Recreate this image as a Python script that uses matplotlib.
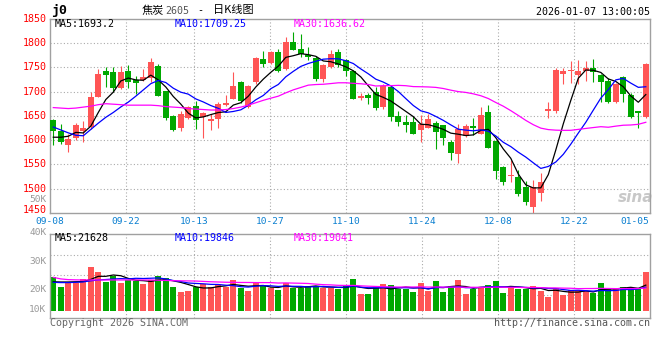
import matplotlib
matplotlib.use("Agg")
import matplotlib.pyplot as plt
import numpy as np
import pandas as pd

# ---------------- data ----------------
opens = [1642, 1619, 1589, 1604, 1619, 1627, 1689, 1742, 1740, 1707,
         1742, 1723, 1723, 1727, 1753, 1701, 1650, 1626, 1646, 1670,
         1648, 1640, 1643, 1672, 1685, 1720, 1668, 1720, 1767, 1759,
         1781, 1746, 1802, 1787, 1776, 1769, 1726, 1750, 1781, 1764,
         1742, 1687, 1693, 1699, 1668, 1709, 1649, 1638, 1637, 1620,
         1626, 1635, 1631, 1596, 1572, 1608, 1629, 1613, 1658, 1598,
         1545, 1526, 1524, 1504, 1462, 1492, 1660, 1659, 1737, 1742,
         1735, 1742, 1749, 1735, 1722, 1678, 1730, 1693, 1660, 1648]
highs = [1644, 1633, 1612, 1636, 1639, 1699, 1747, 1750, 1750, 1752,
         1754, 1733, 1747, 1769, 1756, 1702, 1651, 1661, 1671, 1681,
         1658, 1653, 1679, 1692, 1740, 1721, 1713, 1771, 1783, 1784,
         1788, 1812, 1822, 1818, 1792, 1774, 1756, 1786, 1788, 1768,
         1745, 1697, 1697, 1709, 1716, 1712, 1660, 1652, 1649, 1651,
         1654, 1640, 1632, 1601, 1633, 1633, 1645, 1668, 1673, 1600,
         1546, 1560, 1538, 1515, 1518, 1533, 1678, 1749, 1748, 1763,
         1764, 1762, 1768, 1737, 1728, 1717, 1733, 1697, 1661, 1759]
lows = [1589, 1593, 1576, 1601, 1596, 1623, 1688, 1709, 1699, 1706,
        1707, 1695, 1721, 1720, 1690, 1642, 1618, 1619, 1644, 1623,
        1605, 1620, 1625, 1670, 1685, 1677, 1666, 1716, 1751, 1757,
        1740, 1744, 1785, 1772, 1766, 1722, 1719, 1748, 1751, 1733,
        1684, 1682, 1675, 1662, 1664, 1640, 1630, 1616, 1612, 1597,
        1625, 1581, 1589, 1560, 1552, 1606, 1610, 1612, 1583, 1521,
        1507, 1513, 1486, 1467, 1451, 1475, 1645, 1656, 1715, 1718,
        1715, 1721, 1720, 1678, 1676, 1677, 1678, 1645, 1624, 1646]
closes = [1619, 1596, 1602, 1632, 1625, 1689, 1737, 1735, 1708, 1740,
          1719, 1718, 1731, 1761, 1691, 1646, 1620, 1653, 1668, 1642,
          1656, 1644, 1674, 1676, 1711, 1680, 1711, 1769, 1757, 1781,
          1743, 1802, 1786, 1778, 1771, 1726, 1754, 1778, 1755, 1742,
          1685, 1691, 1686, 1667, 1711, 1648, 1638, 1632, 1613, 1633,
          1643, 1617, 1605, 1574, 1622, 1629, 1624, 1652, 1584, 1536,
          1513, 1528, 1490, 1473, 1504, 1514, 1664, 1744, 1742, 1745,
          1742, 1749, 1741, 1720, 1678, 1716, 1694, 1647, 1655, 1757]
volumes = [28130, 19980, 24480, 23630, 26720, 37120, 32910, 24480, 29250, 23630,
           25880, 25040, 22790, 25880, 29530, 27850, 19980, 16050, 16890, 19980,
           22790, 20260, 21670, 19980, 25880, 18860, 16890, 23630, 21100, 18860,
           17450, 23630, 19420, 19420, 21100, 20820, 19420, 18860, 18010, 20820,
           26720, 14080, 14080, 19420, 22510, 21670, 18010, 18010, 16050, 23350,
           16610, 25040, 16050, 20820, 25880, 14080, 18010, 19980, 21670, 25040,
           14920, 20820, 18010, 18010, 20820, 16610, 11550, 19140, 13240, 17450,
           17100, 16610, 14500, 23350, 19140, 18290, 20300, 17450, 19140, 32600]

# moving-average values before the window is full
ma5_lead = [1606, 1606, 1608, 1616]
ma10_lead = [1627, 1621, 1615, 1610, 1609, 1622, 1635, 1647, 1657]
ma30_lead = [1667, 1666, 1665, 1666, 1668, 1670, 1673, 1675, 1674, 1673,
             1672, 1672, 1672, 1672, 1671, 1669, 1668, 1667, 1665, 1664,
             1663, 1662, 1662, 1663, 1665, 1668, 1672, 1677, 1682]
vol_ma5_lead = [24400, 24200, 24200, 24400]
vol_ma10_lead = [23900, 23700, 23700, 23900, 24300, 25200, 25900, 26300, 26700]
vol_ma30_lead = [28100, 26800, 26200, 26000, 25900, 25900, 25900, 25900, 25900, 25900,
                 25900, 25900, 25900, 25900, 25700, 25500, 25300, 25200, 25100, 25000,
                 24700, 24400, 24200, 24000, 23900, 23800, 23800, 23700, 23700]

date_labels = ["09-08", "09-22", "10-13", "10-27", "11-10", "11-24", "12-08", "12-22", "01-05"]
date_label_index = [0, 10, 19, 29, 39, 49, 59, 69, 77]
price_ticks = [1450, 1500, 1550, 1600, 1650, 1700, 1750, 1800, 1850]
price_legend = ["MA5:1693.2", "MA10:1709.25", "MA30:1636.62"]
vol_legend = ["MA5:21628", "MA10:19846", "MA30:19041"]
vol_tick_labels = ["50K", "40K", "30K", "20K", "10K"]
title_name = "焦炭"
title_code = "2605"
title_rest = "日K线图"
symbol = "j0"
timestamp = "2026-01-07 13:00:05"
copyright_text = "Copyright 2026 SINA.COM"
url_text = "http://finance.sina.com.cn"


def moving_average(values, n, lead):
    s = pd.Series(values, dtype=float).rolling(n).mean().to_numpy()
    s[:n - 1] = lead
    return s


# ---------------- style ----------------
RED = "#ff5555"
GREEN = "#00a800"
MA_COLORS = ["#000000", "#0000ff", "#ff00ff"]
GRID = "#aaaaaa"
BORDER = "#a0a0a0"
plt.rcParams["font.family"] = ["DejaVu Sans Mono"]
CJK = ["Noto Sans CJK SC", "DejaVu Sans"]
FS = 7.2
FS_AX = 6.8

W, H = 660, 360
fig = plt.figure(figsize=(6.6, 3.6), dpi=100)
fig.patch.set_facecolor("white")


def px_axes(l, t, r, b):
    return fig.add_axes([l / W, 1 - b / H, (r - l) / W, (b - t) / H])


ax = px_axes(50, 18.7, 650, 213)
axv = px_axes(50, 234.3, 650, 317.7)

n = len(closes)
x = np.arange(n)
o = np.array(opens, float)
c = np.array(closes, float)
hi = np.array(highs, float)
lo = np.array(lows, float)
up = c >= o
cols = np.where(up, RED, GREEN)

xlim = (-0.44, n - 0.44)
grid_pos = [xlim[0] + i * n / (n - 1) for i in date_label_index]

for a in (ax, axv):
    a.set_xlim(*xlim)
    for s in a.spines.values():
        s.set_color(BORDER)
        s.set_linewidth(1.0)
    for gp in grid_pos[1:-1]:
        a.axvline(gp, color=GRID, lw=0.8, ls=(0, (1, 2)), zorder=0)

# price panel
ax.set_ylim(1450, 1850)
for p in price_ticks[1:-1]:
    ax.axhline(p, color=GRID, lw=0.8, ls=(0, (1, 2)), zorder=0)
ax.vlines(x, lo, hi, colors=cols, lw=0.8, zorder=2)
body_h = np.maximum(np.abs(c - o), 1.5)
ax.bar(x, body_h, bottom=np.minimum(o, c), width=0.8, color=cols, lw=0, zorder=3)

ma_price = [moving_average(closes, 5, ma5_lead),
            moving_average(closes, 10, ma10_lead),
            moving_average(closes, 30, ma30_lead)]
for m, col in zip(ma_price, MA_COLORS):
    ax.plot(x, m, color=col, lw=0.9, zorder=4)

# price labels (the lowest one nudged up slightly so it clears the date row)
ax.set_yticks([])
for i, p in enumerate(price_ticks):
    ax.annotate(str(p), xy=(0, p), xycoords=("axes fraction", "data"),
                xytext=(-2.5, 2.2 if i == 0 else 0), textcoords="offset points",
                ha="right", va="center", color="#ff0000", fontsize=FS,
                annotation_clip=False)

ax.set_xticks(grid_pos)
ax.set_xticklabels(date_labels)
ax.tick_params(axis="x", length=0, pad=2.6, labelcolor="#0a7fd0", labelsize=FS_AX)

for lbl, col, xp in zip(price_legend, MA_COLORS, [55, 175, 294]):
    ax.text((xp - 50) / 600, (213 - 24) / 194.3, lbl, transform=ax.transAxes,
            ha="left", va="center", color=col, fontsize=FS)

# sina watermark
ax.text((636 - 50) / 600, (213 - 197) / 194.3, "sina", transform=ax.transAxes,
        ha="center", va="center", color="#c8c8c8", fontsize=11, style="italic",
        fontweight="bold", family="DejaVu Sans", zorder=1)

# volume panel
vmax_px = 64405
axv.set_ylim(-5901, vmax_px)
for fy in [0.7518, 0.512, 0.272]:
    axv.axhline(-5901 + fy * (vmax_px + 5901), color=GRID, lw=0.8, ls=(0, (1, 2)), zorder=0)
axv.bar(x, volumes, width=0.8, color=cols, lw=0, zorder=2)
ma_vol = [moving_average(volumes, 5, vol_ma5_lead),
          moving_average(volumes, 10, vol_ma10_lead),
          moving_average(volumes, 30, vol_ma30_lead)]
for m, col in zip(ma_vol, MA_COLORS):
    axv.plot(x, m, color=col, lw=0.9, zorder=3)
axv.set_xticks([])
axv.set_yticks([])
for lbl, col, xp in zip(vol_legend, MA_COLORS, [55, 175, 294]):
    axv.text((xp - 50) / 600, (317.7 - 237.7) / 83.4, lbl, transform=axv.transAxes,
             ha="left", va="center", color=col, fontsize=FS)

# volume axis labels (placed as in the original, including the one in the price panel)
for lbl, ypx in zip(vol_tick_labels, [199.5, 232.5, 261, 290, 310]):
    fig.text(46.5 / W, 1 - ypx / H, lbl, ha="right", va="center", color="#999999", fontsize=FS_AX)

# header / footer
fig.text(51 / W, 1 - 10.5 / H, symbol, ha="left", va="center", color="black",
         fontsize=9.5, fontweight="bold")
fig.text(141.7 / W, 1 - 10.5 / H, title_name, ha="left", va="center", color="black",
         fontsize=8, family=CJK)
fig.text(165 / W, 1 - 10.5 / H, title_code, ha="left", va="center", color="#555555",
         fontsize=FS)
fig.text(200 / W, 1 - 10.5 / H, "-", ha="center", va="center", color="black", fontsize=FS)
fig.text(213 / W, 1 - 10.5 / H, title_rest, ha="left", va="center", color="black",
         fontsize=8, family=CJK)
fig.text(650 / W, 1 - 12 / H, timestamp, ha="right", va="center", color="black", fontsize=FS)
fig.text(50 / W, 1 - 323.5 / H, copyright_text, ha="left", va="center", color="#666666", fontsize=FS)
fig.text(650 / W, 1 - 323.5 / H, url_text, ha="right", va="center", color="#555555", fontsize=FS)

fig.savefig("out.png", dpi=100, facecolor="white")
